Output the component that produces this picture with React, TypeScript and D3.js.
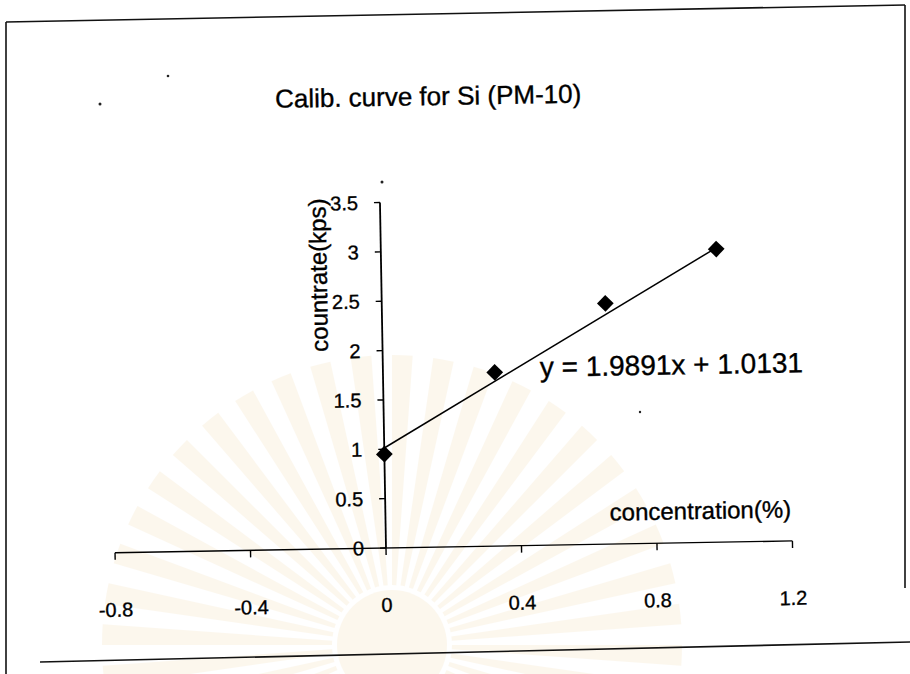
import React from "react";
import * as d3 from "d3";

const xTicks = [-0.8, -0.4, 0, 0.4, 0.8, 1.2];
const yTicks = [0, 0.5, 1, 1.5, 2, 2.5, 3, 3.5];
const concentration = [0, 0.33, 0.66, 0.99];
const countrate = [0.95, 1.76, 2.44, 2.97];
const slope = 1.9891;
const intercept = 1.0131;
const titleText = "Calib. curve for Si (PM-10)";
const xTitleText = "concentration(%)";
const yTitleText = "countrate(kps)";
const equationText = "y = 1.9891x + 1.0131";

const FONT = "'Liberation Sans', Arial, Helvetica, sans-serif";

export default function App() {
  const W = 910;
  const H = 674;
  const x = d3.scaleLinear().domain([-0.8, 1.2]).range([115, 792.5]);
  const y = d3.scaleLinear().domain([0, 3.5]).range([548, 202.5]);
  const x0 = x(0);
  const y0 = y(0);

  const fitX = [concentration[0], concentration[concentration.length - 1]];
  const fitLine = d3
    .line<number>()
    .x((d) => x(d))
    .y((d) => y(slope * d + intercept))(fitX);

  const diamond = d3.symbol().type(d3.symbolSquare).size(140)();

  // faint background watermark rays
  const rayCount = 44;
  const arc = d3.arc<any>();
  const rays = d3.range(rayCount).map((i) => {
    const a0 = (i / rayCount) * 2 * Math.PI;
    const a1 = a0 + (Math.PI * 2) / rayCount / 2;
    return arc({ innerRadius: 60, outerRadius: 290, startAngle: a0, endAngle: a1 }) as string;
  });

  const fmt = (t: number) => String(t);
  const textStyle = { stroke: "#000", strokeWidth: 0.35 } as const;

  return (
    <svg
      width={W}
      height={H}
      style={{ position: "absolute", left: 0, top: 0, background: "#fff" }}
      fontFamily={FONT}
    >
      <rect x={0} y={0} width={W} height={H} fill="#fff" />
      {/* watermark */}
      <g transform="translate(392,645)" opacity={0.17}>
        {rays.map((p, i) => (
          <path key={i} d={p} fill="#f0d49c" />
        ))}
        <circle r={55} fill="#f0d49c" />
      </g>

      {/* frame (scanned, slightly skewed) */}
      <g stroke="#111" strokeWidth={1.6} fill="none">
        <line x1={6} y1={22} x2={905} y2={5} />
        <line x1={6} y1={22} x2={6} y2={674} />
        <line x1={905} y1={5} x2={905} y2={588} />
        <line x1={40} y1={662} x2={910} y2={642} />
      </g>

      <g transform={`rotate(-1, ${x0}, ${y0})`}>
        {/* title */}
        <text x={436} y={97} textAnchor="middle" dominantBaseline="central" fontSize={26} fill="#000" style={textStyle}>
          {titleText}
        </text>

        {/* x axis */}
        <line x1={x(-0.8)} y1={y0} x2={x(1.2)} y2={y0} stroke="#000" strokeWidth={1.4} />
        {xTicks.map((t) => (
          <g key={"xt" + t}>
            <line x1={x(t)} y1={y0} x2={x(t)} y2={y0 + 7} stroke="#000" strokeWidth={1.4} />
            <text x={x(t)} y={605} textAnchor="middle" dominantBaseline="central" fontSize={20} fill="#000" style={textStyle}>
              {fmt(t)}
            </text>
          </g>
        ))}

        {/* y axis */}
        <line x1={x0} y1={y(3.5)} x2={x0} y2={y0} stroke="#000" strokeWidth={1.8} />
        {yTicks.map((t) => (
          <g key={"yt" + t}>
            <line x1={x0 - 6} y1={y(t)} x2={x0} y2={y(t)} stroke="#000" strokeWidth={1.4} />
            <text x={x0 - 22} y={y(t)} textAnchor="end" dominantBaseline="central" fontSize={20} fill="#000" style={textStyle}>
              {fmt(t)}
            </text>
          </g>
        ))}

        {/* axis titles */}
        <text x={701} y={516} textAnchor="middle" dominantBaseline="central" fontSize={24} fill="#000" style={textStyle}>
          {xTitleText}
        </text>
        <text
          transform={`translate(323,274) rotate(-90)`}
          textAnchor="middle"
          dominantBaseline="central"
          fontSize={24}
          fill="#000"
          style={textStyle}
        >
          {yTitleText}
        </text>

        {/* trendline */}
        <path d={fitLine || ""} fill="none" stroke="#000" strokeWidth={1.5} />

        {/* points */}
        {concentration.map((c, i) => (
          <path
            key={"p" + i}
            d={diamond || ""}
            transform={`translate(${x(c)},${y(countrate[i])}) rotate(45)`}
            fill="#000"
          />
        ))}

        {/* equation */}
        <text x={543} y={370} dominantBaseline="central" fontSize={28} fill="#000" style={textStyle}>
          {equationText}
        </text>
      </g>

      {/* scan specks */}
      <g fill="#222">
        <circle cx={100} cy={104} r={1.5} />
        <circle cx={168} cy={76} r={1.3} />
        <circle cx={382} cy={182} r={1.5} />
        <circle cx={640} cy={412} r={1.2} />
      </g>
    </svg>
  );
}
